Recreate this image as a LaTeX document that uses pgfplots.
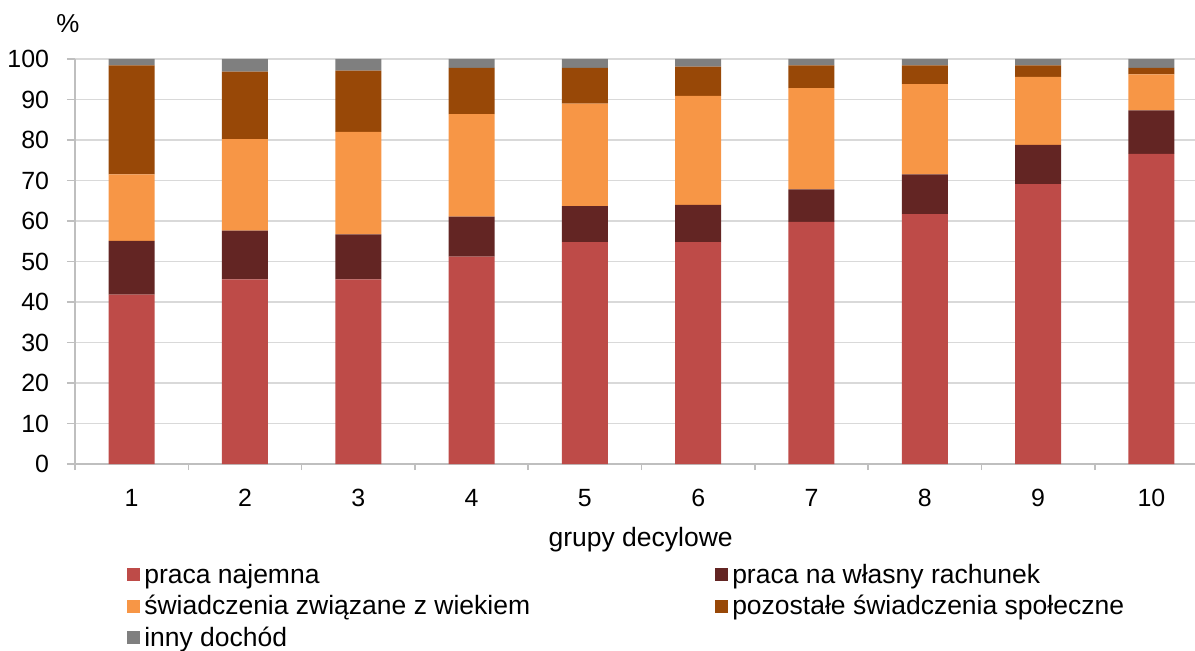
\documentclass[border=0pt]{standalone}
\usepackage{pgfplots}
\pgfplotsset{compat=1.18}
\usepackage{fontspec}
\setmainfont{Liberation Sans}
\definecolor{cA}{HTML}{BE4B48}
\definecolor{cB}{HTML}{632523}
\definecolor{cC}{HTML}{F79646}
\definecolor{cD}{HTML}{984807}
\definecolor{cE}{HTML}{7F7F7F}
\definecolor{gridc}{HTML}{D9D9D9}
\definecolor{axc}{HTML}{BFBFBF}
\begin{document}
\begin{tikzpicture}
\begin{axis}[
  scale only axis, clip=false,
  width=560bp, height=202.5bp,
  ybar stacked, bar width=23bp,
  xmin=0.5, xmax=10.385,
  ymin=0, ymax=100,
  ytick={0,10,...,100},
  xtick={1,...,10},
  minor xtick={0.5,1.5,...,9.5},
  major x tick style={draw=none},
  minor x tick style={draw=axc, line width=0.8bp},
  minor tick length=3bp,
  y tick style={draw=axc, line width=0.8bp},
  major tick length=4bp,
  tick align=outside,
  ymajorgrids, grid style={gridc, line width=0.8bp},
  axis x line*=bottom, axis y line*=left,
  x axis line style={draw=axc, line width=0.8bp, -},
  y axis line style={draw=axc, line width=0.8bp, -},
  tick label style={font=\fontsize{12.5}{14}\selectfont, text=black},
  yticklabel style={xshift=-5.5bp},
  xticklabel style={yshift=-5bp},
  /pgf/number format/assume math mode=true,
  xlabel={grupy decylowe},
  xlabel style={font=\fontsize{13.3}{15}\selectfont, at={(rel axis cs:0.505,0)}, anchor=north, yshift=-28bp},
  legend columns=2,
  legend cell align=left,
  legend style={draw=none, fill=none, at={(rel axis cs:0.041,-0.226)}, anchor=north west,
    font=\fontsize{13.3}{15}\selectfont, row sep=0.5bp,
    /tikz/every even column/.append style={column sep=0bp}},
  legend image code/.code={\fill[#1] (0bp,-3.25bp) rectangle (6.5bp,3.25bp);},
  every axis plot/.append style={draw=none},
]
\addplot[fill=cA] coordinates {(1,41.8) (2,45.6) (3,45.6) (4,51.2) (5,54.8) (6,54.8) (7,59.8) (8,61.7) (9,69.1) (10,76.6)};
\addlegendentry{\makebox[283.5bp][l]{praca najemna}}
\addplot[fill=cB] coordinates {(1,13.3) (2,12.0) (3,11.1) (4,9.9) (5,8.9) (6,9.2) (7,8.0) (8,9.8) (9,9.7) (10,10.7)};
\addlegendentry{praca na własny rachunek}
\addplot[fill=cC] coordinates {(1,16.4) (2,22.6) (3,25.3) (4,25.3) (5,25.3) (6,26.9) (7,25.0) (8,22.3) (9,16.8) (10,8.9)};
\addlegendentry{\makebox[283.5bp][l]{świadczenia związane z wiekiem}}
\addplot[fill=cD] coordinates {(1,26.9) (2,16.7) (3,15.1) (4,11.4) (5,8.8) (6,7.2) (7,5.6) (8,4.6) (9,2.8) (10,1.6)};
\addlegendentry{pozostałe świadczenia społeczne}
\addplot[fill=cE] coordinates {(1,1.6) (2,3.1) (3,2.9) (4,2.2) (5,2.2) (6,1.9) (7,1.6) (8,1.6) (9,1.6) (10,2.2)};
\addlegendentry{inny dochód}
\coordinate (O) at (rel axis cs:0,0);
\node[font=\fontsize{13}{15}\selectfont, anchor=center] at ([xshift=-3.5bp,yshift=17.5bp]rel axis cs:0,1) {\%};
\end{axis}
\pgfresetboundingbox
\path[use as bounding box] ([xshift=-37.5bp,yshift=-93.5bp]O) rectangle ([xshift=560bp,yshift=232bp]O);
\end{tikzpicture}
\end{document}
